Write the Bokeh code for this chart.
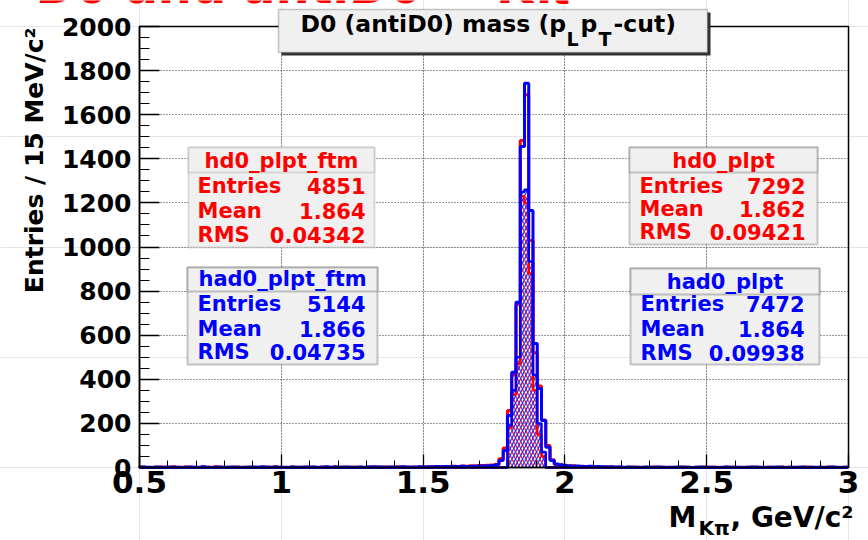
import numpy as np
from bokeh.plotting import figure
from bokeh.models import (BoxAnnotation, Label, LinearAxis, Grid,
                          SingleIntervalTicker, CustomJSTickFormatter)
from bokeh.embed import file_html
from bokeh.resources import INLINE

# ---------------------------------------------------------------------------
# Histogram binning: 15 MeV bins centred on 0.500, 0.515, ... 2.990 GeV/c^2
# ---------------------------------------------------------------------------
bin_width = 0.015
first_center = 0.500
n_bins = 167

# hd0_plpt : D0 candidates after pL-pT cut (red outline)
hd0_plpt = [
    2, 1, 0, 1, 1, 2, 1, 0, 3, 1,
    1, 2, 1, 1, 0, 2, 1, 1, 3, 1,
    0, 1, 1, 2, 1, 1, 2, 0, 1, 1,
    2, 1, 3, 1, 0, 1, 2, 1, 1, 1,
    2, 1, 0, 2, 1, 1, 3, 1, 2, 1,
    1, 2, 1, 0, 2, 1, 3, 1, 2, 1,
    1, 3, 2, 1, 2, 1, 2,
    2, 2, 4, 3, 5, 3, 4, 6, 5, 7, 6, 8, 6, 9, 8, 10, 11, 14,
    40, 88, 258, 420, 740, 1483, 1690, 1030, 520, 370, 215, 100, 35,
    14, 11, 10, 7, 8, 5, 6, 4, 3, 5, 3, 2, 3, 2, 1, 2,
    0, 1, 2, 1, 1, 0, 1, 2, 1, 1,
    1, 0, 1, 1, 2, 1, 0, 1, 1, 2,
    1, 1, 1, 0, 2, 1, 1, 0, 1, 1,
    1, 2, 0, 1, 1, 1, 0, 2, 1, 1,
    0, 1, 1, 2, 1, 0, 1, 1, 2, 1,
    0, 1, 1,
]

# had0_plpt : D0 + antiD0 candidates after pL-pT cut (blue outline)
had0_plpt = [
    1, 2, 1, 0, 2, 1, 1, 2, 1, 1,
    0, 1, 2, 1, 1, 3, 1, 0, 1, 2,
    1, 1, 2, 1, 0, 1, 1, 2, 1, 3,
    1, 1, 2, 1, 1, 0, 2, 1, 1, 2,
    1, 2, 1, 1, 3, 1, 2, 1, 1, 2,
    1, 0, 2, 1, 2, 3, 1, 2, 1, 2,
    2, 1, 3, 2, 1, 2, 3,
    2, 3, 2, 4, 3, 4, 3, 5, 4, 6, 5, 5, 7, 6, 8, 7, 9, 12,
    32, 77, 236, 432, 750, 1456, 1743, 1166, 562, 358, 213, 92, 32,
    16, 12, 9, 8, 6, 7, 5, 4, 6, 3, 4, 3, 2, 3, 2, 2,
    1, 2, 1, 1, 0, 2, 1, 1, 2, 1,
    0, 1, 1, 2, 1, 1, 0, 1, 2, 1,
    1, 1, 0, 1, 2, 1, 1, 1, 0, 1,
    2, 1, 1, 0, 1, 1, 2, 1, 0, 1,
    1, 1, 2, 0, 1, 1, 1, 0, 1, 2,
    1, 0, 1,
]

# "ftm" selections are only populated around the peak (bins 87..95)
ftm_first_bin = 87
hd0_plpt_ftm = [180, 330, 470, 1230, 1200, 880, 350, 150, 50]
had0_plpt_ftm = [190, 350, 500, 1250, 1260, 934, 420, 200, 70]

# Statistics boxes: (name, entries, mean, rms, text colour, border colour)
stats = [
    ("hd0_plpt_ftm", "4851", "1.864", "0.04342", "#ff0000", "#999999"),
    ("had0_plpt_ftm", "5144", "1.866", "0.04735", "#0000ff", "#444444"),
    ("hd0_plpt", "7292", "1.862", "0.09421", "#ff0000", "#555555"),
    ("had0_plpt", "7472", "1.864", "0.09938", "#0000ff", "#444444"),
]

x_lo, x_hi = 0.5, 3.0
y_lo, y_hi = 0.0, 2000.0

FONT = "DejaVu Sans"

# ---------------------------------------------------------------------------
# The drawing area spans the whole canvas; the histogram frame sits inside it
# so that the pave boxes and axis titles can be placed around it freely.
W, H = 868, 540
FL, FR, FT, FB = 139, 848, 26, 467          # histogram frame, canvas pixels


def px2x(px):
    return x_lo + (px - FL) * (x_hi - x_lo) / (FR - FL)


def py2y(py):
    return y_lo + (FB - py) * (y_hi - y_lo) / (FB - FT)


p = figure(width=W, height=H,
           x_range=(px2x(0), px2x(W)), y_range=(py2y(H), py2y(0)),
           output_backend="svg", toolbar_location=None,
           x_axis_location=None, y_axis_location=None,
           min_border=0)
p.min_border_left = p.min_border_right = 0
p.min_border_top = p.min_border_bottom = 0
p.background_fill_color = "white"
p.border_fill_color = "white"
p.outline_line_color = None

# axes pinned to the histogram frame
xticker = SingleIntervalTicker(interval=0.5, num_minor_ticks=5)
yticker = SingleIntervalTicker(interval=200, num_minor_ticks=4)
xaxis = LinearAxis(ticker=xticker, fixed_location=y_lo, bounds=(x_lo, x_hi))
yaxis = LinearAxis(ticker=yticker, fixed_location=x_lo, bounds=(y_lo, y_hi))
xaxis.formatter = CustomJSTickFormatter(
    code="return String(Number(tick.toFixed(2)));")
for ax in (xaxis, yaxis):
    ax.axis_line_color = "black"
    ax.axis_line_width = 1.5
    ax.major_tick_out = 0
    ax.minor_tick_out = 0
    ax.major_tick_line_color = "black"
    ax.minor_tick_line_color = "black"
    ax.major_tick_line_width = 1.3
    ax.minor_tick_line_width = 1.0
    ax.major_label_text_font = FONT
    ax.major_label_text_font_style = "bold"
    ax.major_label_text_color = "black"
xaxis.major_tick_in = 13
xaxis.minor_tick_in = 7
yaxis.major_tick_in = 20
yaxis.minor_tick_in = 10
xaxis.major_label_text_font_size = "31px"
yaxis.major_label_text_font_size = "25px"
xaxis.major_label_standoff = 3
yaxis.major_label_standoff = 8
p.add_layout(xaxis, "below")
p.add_layout(yaxis, "left")

# dotted grid restricted to the frame
grid_style = dict(grid_line_color="#333333", grid_line_dash="1 2",
                  grid_line_width=1)
xgrid = Grid(dimension=0, ticker=xticker, bounds=(x_lo, x_hi), **grid_style)
ygrid = Grid(dimension=1, ticker=yticker, bounds=(y_lo, y_hi), **grid_style)
try:
    xgrid.cross_bounds = (y_lo, y_hi)
    ygrid.cross_bounds = (x_lo, x_hi)
    p.add_layout(xgrid)
    p.add_layout(ygrid)
except Exception:
    gx = np.arange(x_lo, x_hi + 1e-9, xticker.interval)
    gy = np.arange(y_lo, y_hi + 1e-9, yticker.interval)
    p.segment(x0=gx, x1=gx, y0=y_lo, y1=y_hi, line_color="#333333",
              line_dash="1 2", line_width=1, level="underlay")
    p.segment(x0=x_lo, x1=x_hi, y0=gy, y1=gy, line_color="#333333",
              line_dash="1 2", line_width=1, level="underlay")

# ---------------------------------------------------------------------------
edges = np.clip(first_center - bin_width / 2 + bin_width * np.arange(n_bins + 1),
                x_lo, x_hi)


def outline(counts):
    xs = np.repeat(edges, 2)
    ys = np.concatenate([[0.0], np.repeat(np.asarray(counts, float), 2), [0.0]])
    return xs, ys


def expand(first, values):
    full = np.zeros(n_bins)
    full[first:first + len(values)] = values
    return full


red_ftm = expand(ftm_first_bin, hd0_plpt_ftm)
blue_ftm = expand(ftm_first_bin, had0_plpt_ftm)

# hatched "ftm" histograms
sel = slice(ftm_first_bin, ftm_first_bin + len(hd0_plpt_ftm))
p.quad(left=edges[:-1][sel], right=edges[1:][sel], bottom=0, top=red_ftm[sel],
       fill_color=None, line_color=None, hatch_pattern="\\",
       hatch_color="#ff2020", hatch_scale=7, hatch_weight=1.3, hatch_alpha=1)
p.quad(left=edges[:-1][sel], right=edges[1:][sel], bottom=0, top=blue_ftm[sel],
       fill_color=None, line_color=None, hatch_pattern="/",
       hatch_color="#2030ff", hatch_scale=7, hatch_weight=1.3, hatch_alpha=1)

# outlines
xs, ys = outline(hd0_plpt)
p.line(xs, ys, line_color="#ff0000", line_width=3)
xs, ys = outline(red_ftm)
p.line(xs, ys, line_color="#ff0000", line_width=2.5)
xs, ys = outline(had0_plpt)
p.line(xs, ys, line_color="#0000ff", line_width=3)
xs, ys = outline(blue_ftm)
p.line(xs, ys, line_color="#0000ff", line_width=2.5)

# frame border
p.quad(left=x_lo, right=x_hi, bottom=y_lo, top=y_hi, fill_color=None,
       line_color="black", line_width=1.5)

# ---------------------------------------------------------------------------
# title pave with shadow
p.add_layout(BoxAnnotation(left=px2x(281), right=px2x(710), top=py2y(12),
                           bottom=py2y(55), fill_color="#333333", fill_alpha=1,
                           line_color=None))
p.add_layout(BoxAnnotation(left=px2x(278), right=px2x(707), top=py2y(9),
                           bottom=py2y(52), fill_color="#f0f0f0", fill_alpha=1,
                           line_color="#444444", line_width=1.5))


def lab(px, py, text, size, color="black", align="left", angle=0.0):
    # (px, py) is the canvas position of the text's vertical middle
    p.add_layout(Label(x=px2x(px), y=py2y(py), text=text, text_font=FONT,
                       text_font_size=f"{size}px", text_font_style="bold",
                       text_color=color, text_align=align,
                       text_baseline="middle", angle=angle))


tsize = 23.5
lab(300, 23, "D0 (antiD0) mass (p", tsize)
lab(566, 38, "L", 19)
lab(580, 23, "p", tsize)
lab(598, 38, "T", 19)
lab(613, 23, "-cut)", tsize)

# statistics boxes
boxes = [
    # left, right, top, bottom, divider, text-left, text-right, row centres
    (188, 374, 147, 247, 172, 197, 365, (160, 185, 210, 234)),
    (187, 377, 267, 364, 291, 197, 365, (278, 303, 328, 351)),
    (629, 817, 147, 244, 172, 639, 805, (160, 185, 208, 231)),
    (630, 819, 268, 364, 294, 640, 804, (281, 303, 328, 352)),
]
for (name, ent, mean, rms, col, border), (l, r, t, b, d, tl, tr, rows) in zip(stats, boxes):
    p.add_layout(BoxAnnotation(left=px2x(l), right=px2x(r), top=py2y(t),
                               bottom=py2y(b), fill_color="#f0f0f0",
                               fill_alpha=1, line_color=border, line_width=2))
    p.add_layout(BoxAnnotation(left=px2x(l), right=px2x(r), top=py2y(t),
                               bottom=py2y(d), fill_color="#f0f0f0",
                               fill_alpha=1, line_color=border, line_width=2))
    lab((l + r) / 2, rows[0], name, 21, col, align="center")
    for row, (k, v) in zip(rows[1:], (("Entries", ent), ("Mean", mean), ("RMS", rms))):
        lab(tl, row, k, 21, col)
        lab(tr, row, v, 21, col, align="right")

# axis titles
lab(34, 27, "Entries / 15 MeV/c\u00b2", 25, align="right", angle=np.pi / 2)
lab(668, 517, "M", 28)
lab(698, 527, "K\u03c0", 20)
lab(730, 517, ", GeV/c\u00b2", 28)

# slide heading running above the canvas
lab(35, -15, "D0 and antiD0 \u2192 K\u03c0", 48, "#ff0000")

open("out.html", "w").write(file_html(p, INLINE))
